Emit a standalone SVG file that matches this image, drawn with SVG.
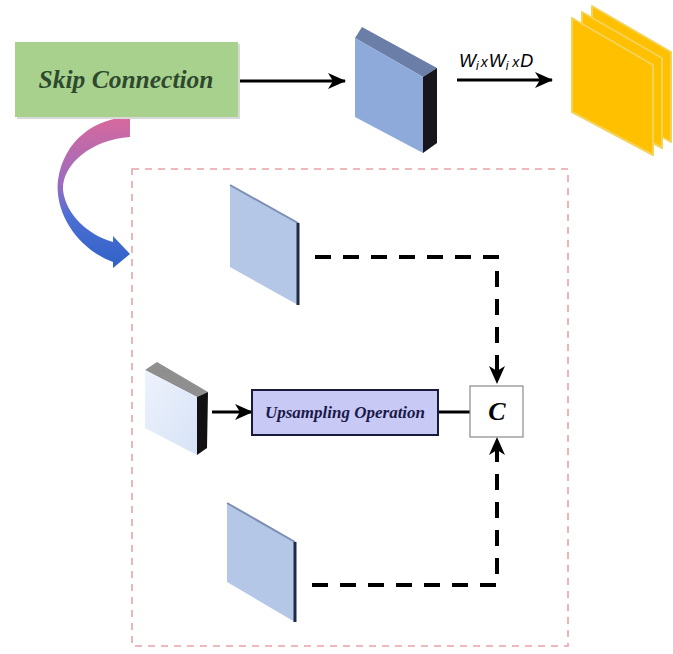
<svg xmlns="http://www.w3.org/2000/svg" width="673" height="654" viewBox="0 0 673 654">
  <style>
    .serif { font-family: "Liberation Serif", "Times New Roman", serif; font-weight: bold; font-style: italic; }
    .solid { fill: none; stroke: #000; stroke-width: 3; }
    .dash { fill: none; stroke: #000; stroke-width: 4; stroke-dasharray: 16 12; }
    .panel { fill: #b4c7e7; }
    .sheet { fill: #ffc000; stroke: #f3d35a; stroke-width: 2; stroke-linejoin: round; }
  </style>
  <defs>
    <marker id="head" markerUnits="userSpaceOnUse" viewBox="0 0 18 16" markerWidth="18" markerHeight="16" refX="17" refY="8" orient="auto">
      <path d="M0,0 L18,8 L0,16 L5,8 Z" fill="#000"/>
    </marker>
    <linearGradient id="curve" gradientUnits="userSpaceOnUse" x1="0" y1="117" x2="0" y2="268">
      <stop offset="0" stop-color="#d8699c"/>
      <stop offset="0.45" stop-color="#9a6cc0"/>
      <stop offset="0.65" stop-color="#4f6fd4"/>
      <stop offset="1" stop-color="#2f62c8"/>
    </linearGradient>
    <linearGradient id="cubeFace" x1="0" y1="0" x2="1" y2="1">
      <stop offset="0" stop-color="#eef3fc"/>
      <stop offset="1" stop-color="#d6e2f6"/>
    </linearGradient>
  </defs>

  <rect width="673" height="654" fill="#fff"/>

  <!-- dashed region holding the upsampling branch -->
  <g id="region">
    <rect x="132" y="169" width="436" height="477" fill="none" stroke="#e8a3a6" stroke-width="1.6" stroke-dasharray="7 6"/>
  </g>

  <!-- connectors -->
  <g id="connectors">
    <line class="solid" x1="239" y1="81" x2="345" y2="81" marker-end="url(#head)"/>
    <line class="solid" x1="457" y1="80" x2="552" y2="80" marker-end="url(#head)"/>
    <path d="M130,117 C95,118 64,140 58,180 C54,215 80,250 113,262 L113,268 L130,254 L113,236 L113,242 C88,235 66,215 63,190 C62,165 90,140 130,137 Z" fill="url(#curve)"/>
    <path class="dash" d="M315,257 H497 V383" marker-end="url(#head)"/>
    <path class="dash" d="M312,585 H497 V438" marker-end="url(#head)"/>
    <line class="solid" x1="212" y1="412" x2="252" y2="412" marker-end="url(#head)"/>
    <line class="solid" x1="438" y1="412" x2="470" y2="412"/>
  </g>

  <!-- skip connection label box -->
  <g id="skip">
    <rect x="17" y="44" width="223" height="75" fill="#d9d9d9"/>
    <rect x="15" y="42" width="223" height="75" fill="#a9d18e"/>
    <text class="serif" x="126" y="88" font-size="25.5" fill="#2e4a2e" text-anchor="middle">Skip Connection</text>
  </g>

  <!-- feature block -->
  <g id="feature">
    <polygon points="355,38 362,27 437,68 423,77" fill="#6b7ea8"/>
    <polygon points="423,77 437,68 437,143 423,153" fill="#16161c"/>
    <polygon points="355,38 423,77 423,153 355,117" fill="#8eaadb"/>
  </g>

  <!-- dimension label -->
  <g id="dims">
    <text x="459" y="67" font-family="'Liberation Sans', Arial, sans-serif" font-style="italic" font-size="18" fill="#000">W<tspan font-size="12" dy="3">i</tspan><tspan font-size="14" dy="-3" dx="2">x</tspan><tspan dx="1">W</tspan><tspan font-size="12" dy="3">i</tspan><tspan font-size="14" dy="-3" dx="4">x</tspan><tspan dx="1">D</tspan></text>
  </g>

  <!-- output feature maps -->
  <g id="output">
    <polygon class="sheet" points="592,6 671,52 671,142 592,98"/>
    <polygon class="sheet" points="582,12 662,58 662,148 582,104"/>
    <polygon class="sheet" points="572,18 653,65 653,155 572,112"/>
  </g>

  <!-- upper skip feature map -->
  <g id="upper">
    <polygon class="panel" points="230,185 298,223 298,305 230,267"/>
    <line x1="230" y1="185" x2="298" y2="223" stroke="#7d8fb3" stroke-width="2"/>
    <line x1="298" y1="223" x2="298" y2="305" stroke="#1f2a44" stroke-width="3"/>
  </g>

  <!-- decoder block -->
  <g id="cube">
    <polygon points="145,370 157,362 208,392 197,397" fill="#8f8f8f"/>
    <polygon points="197,397 208,392 207,448 197,455" fill="#111"/>
    <polygon points="145,370 197,397 197,455 145,428" fill="url(#cubeFace)"/>
  </g>

  <!-- upsampling step -->
  <g id="upsampling">
    <rect x="252" y="390" width="186" height="45" fill="#c9c9f5" stroke="#1a1a3a" stroke-width="2"/>
    <text class="serif" x="345" y="418" font-size="17" fill="#1a1a4a" text-anchor="middle">Upsampling Operation</text>
  </g>

  <!-- concatenation -->
  <g id="concat">
    <rect x="470" y="386" width="53" height="51" fill="#fff" stroke="#8a8a8a" stroke-width="1.2"/>
    <text class="serif" x="497" y="420" font-size="26" fill="#000" text-anchor="middle">C</text>
  </g>

  <!-- lower skip feature map -->
  <g id="lower">
    <polygon class="panel" points="227,503 295,542 295,622 227,582"/>
    <line x1="227" y1="503" x2="295" y2="542" stroke="#7d8fb3" stroke-width="2"/>
    <line x1="295" y1="542" x2="295" y2="622" stroke="#1f2a44" stroke-width="3"/>
  </g>
</svg>
